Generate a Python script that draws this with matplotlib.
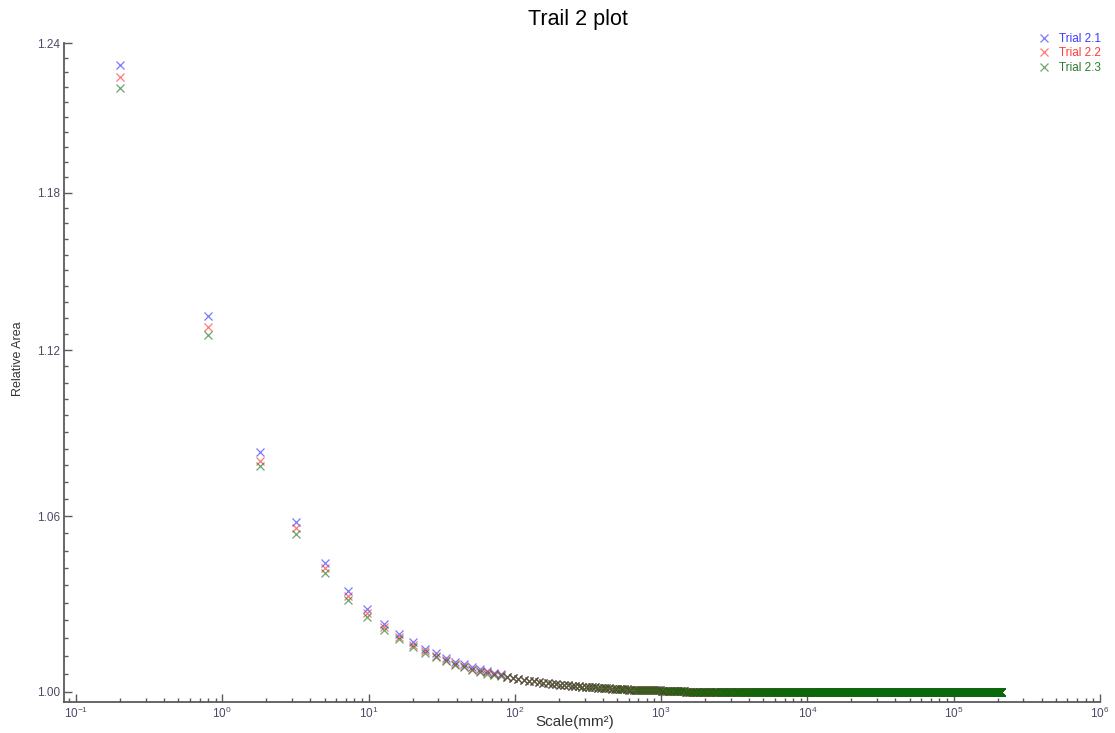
import numpy as np
import matplotlib
matplotlib.use("Agg")
import matplotlib.pyplot as plt
from matplotlib.ticker import FixedLocator, FormatStrFormatter, NullFormatter, LogLocator

plt.rcParams["font.family"] = ["Liberation Sans", "DejaVu Sans"]

# window side length (pixels); scale = 0.2 mm^2 per unit squared
side = np.arange(1, 1031)
scale = 0.2 * side ** 2

labels = ["Trial 2.1", "Trial 2.2", "Trial 2.3"]
colors = ["#2020ff", "#ff2020", "#0a6a0a"]
text_colors = ["#3b3bff", "#ff3b3b", "#2f7a2f"]

# first 20 points, read per trial
trial_1 = [1.2309, 1.1327, 1.0828, 1.0580, 1.0437, 1.0340, 1.0279, 1.0228, 1.0194, 1.0167,
           1.0143, 1.0130, 1.0113, 1.0100, 1.0093, 1.0083, 1.0076, 1.0070, 1.0064, 1.0059]
trial_2 = [1.2262, 1.1287, 1.0796, 1.0559, 1.0420, 1.0323, 1.0265, 1.0218, 1.0184, 1.0157,
           1.0137, 1.0120, 1.0107, 1.0093, 1.0086, 1.0077, 1.0071, 1.0065, 1.0059, 1.0055]
trial_3 = [1.2216, 1.1256, 1.0778, 1.0538, 1.0402, 1.0310, 1.0252, 1.0208, 1.0177, 1.0150,
           1.0130, 1.0117, 1.0103, 1.0090, 1.0083, 1.0073, 1.0067, 1.0061, 1.0056, 1.0052]

# points 21..90, where the three trials overlap
shared_tail = [1.0050, 1.0046, 1.0043, 1.0040, 1.0037, 1.0035, 1.0033, 1.0031, 1.0029, 1.0027,
               1.0026, 1.0024, 1.0023, 1.0022, 1.0021, 1.0020, 1.0019, 1.0018, 1.0017, 1.0016,
               1.0015, 1.0015, 1.0014, 1.0013, 1.0013, 1.0012, 1.0012, 1.0011, 1.0011, 1.0010,
               1.0010, 1.0009, 1.0009, 1.0009, 1.0008, 1.0008, 1.0008, 1.0007, 1.0007, 1.0007,
               1.0006, 1.0006, 1.0006, 1.0006, 1.0006, 1.0005, 1.0005, 1.0005, 1.0005, 1.0005,
               1.0004, 1.0004, 1.0004, 1.0004, 1.0004, 1.0003, 1.0003, 1.0003, 1.0003, 1.0003,
               1.0002, 1.0002, 1.0002, 1.0002, 1.0002, 1.0001, 1.0001, 1.0001, 1.0001, 1.0001]
plateau = 1.0

x_ticks = [1e-1, 1e0, 1e1, 1e2, 1e3, 1e4, 1e5, 1e6]
y_ticks = [1.00, 1.06, 1.12, 1.18, 1.24]

fig = plt.figure(figsize=(11.15, 7.33), dpi=100)
ax = fig.add_axes([0.0574, 0.0423, 0.9291, 0.899])

n_rest = len(side) - len(trial_1) - len(shared_tail)
for head, lab, col in zip([trial_1, trial_2, trial_3], labels, colors):
    y = np.concatenate([head, shared_tail, np.full(n_rest, plateau)])
    ax.plot(scale, y, linestyle="none", marker="x", markersize=6, markeredgewidth=0.9,
            color=col, alpha=0.6, label=lab)

ax.set_xscale("log")
ax.set_yscale("log")
ax.set_xlim(0.0828, 1e6)
ax.set_ylim(0.99669, 1.24)

ax.xaxis.set_major_locator(FixedLocator(x_ticks))
ax.xaxis.set_minor_locator(LogLocator(base=10, subs=np.arange(2, 10), numticks=100))
ax.xaxis.set_minor_formatter(NullFormatter())

ax.yaxis.set_major_locator(FixedLocator(y_ticks))
ax.yaxis.set_major_formatter(FormatStrFormatter("%.2f"))
ax.yaxis.set_minor_locator(FixedLocator([1.0 + 0.006 * i for i in range(41) if i % 10]))
ax.yaxis.set_minor_formatter(NullFormatter())

for s in ["top", "right"]:
    ax.spines[s].set_visible(False)
for s in ["left", "bottom"]:
    ax.spines[s].set_color("#5a5a5a")
    ax.spines[s].set_linewidth(1.3)

ax.tick_params(which="major", direction="in", length=6, width=1, color="#5a5a5a",
               labelsize=8.5, labelcolor="#4a4a66", pad=3)
ax.tick_params(which="minor", direction="in", length=3, width=1, color="#5a5a5a")

fig.text(0.5184, 0.973, "Trail 2 plot", ha="center", va="center", fontsize=15.5)
fig.text(0.5157, 0.015, "Scale(mm²)", ha="center", va="center", fontsize=11, color="#333333")
fig.text(0.016, 0.51, "Relative Area", ha="center", va="center", rotation=90, fontsize=9,
         color="#333333")

leg = ax.legend(loc="upper right", bbox_to_anchor=(0.9875, 0.955),
                bbox_transform=fig.transFigure, frameon=False, fontsize=8.5,
                handlelength=1.0, handletextpad=0.8, labelspacing=0.2, borderpad=0,
                borderaxespad=0)
for txt, tc in zip(leg.get_texts(), text_colors):
    txt.set_color(tc)

fig.savefig("out.png", dpi=100)
